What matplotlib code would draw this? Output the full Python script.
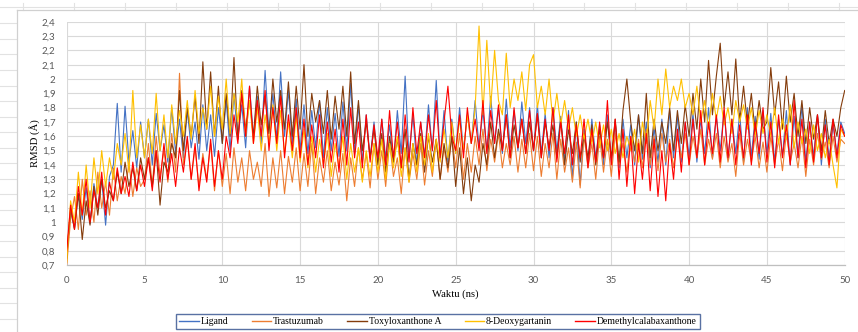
import numpy as np
import matplotlib
matplotlib.use("Agg")
import matplotlib.pyplot as plt
from matplotlib.lines import Line2D

# RMSD values, one sample every 0.25 ns (0..50 ns)
ligand = [
    0.78, 1.08, 0.96, 1.2, 1.02, 1.24, 0.99, 1.27, 1.1, 1.3, 0.98, 1.32, 1.4, 1.83, 1.35, 1.81, 1.42, 1.64, 1.38, 1.7,
    1.45, 1.72, 1.4, 1.76, 1.5, 1.68, 1.42, 1.8, 1.48, 1.72, 1.45, 1.78, 1.52, 1.7, 1.44, 1.82, 1.5, 1.75, 1.46, 1.8,
    1.55, 1.85, 1.5, 1.9, 1.58, 1.82, 1.52, 1.95, 1.6, 1.88, 1.55, 2.06, 1.62, 1.9, 1.58, 2.05, 1.6, 1.92, 1.55, 1.86,
    1.5, 1.82, 1.48, 1.78, 1.52, 1.85, 1.45, 1.8, 1.5, 1.76, 1.46, 1.84, 1.5, 1.97, 1.48, 1.82, 1.42, 1.75, 1.45, 1.7,
    1.4, 1.72, 1.45, 1.68, 1.42, 1.78, 1.48, 2.02, 1.45, 1.75, 1.4, 1.7, 1.46, 1.82, 1.5, 1.99, 1.45, 1.78, 1.42, 1.72,
    1.48, 1.8, 1.5, 1.75, 1.55, 1.85, 1.52, 1.78, 1.5, 1.88, 1.55, 1.8, 1.48, 1.86, 1.52, 1.78, 1.5, 1.84, 1.55, 1.8,
    1.5, 1.82, 1.48, 1.76, 1.45, 1.8, 1.5, 1.74, 1.42, 1.78, 1.3, 1.7, 1.26, 1.65, 1.4, 1.72, 1.45, 1.68, 1.4, 1.75,
    1.42, 1.7, 1.38, 1.72, 1.45, 1.68, 1.4, 1.75, 1.44, 1.7, 1.38, 1.66, 1.42, 1.72, 1.4, 1.78, 1.45, 1.74, 1.42, 1.7,
    1.46, 1.76, 1.42, 1.72, 1.48, 1.8, 1.45, 1.74, 1.5, 1.78, 1.44, 1.72, 1.48, 1.76, 1.42, 1.8, 1.46, 1.74, 1.44, 1.78,
    1.48, 1.76, 1.42, 1.72, 1.46, 1.78, 1.4, 1.74, 1.45, 1.82, 1.42, 1.7, 1.46, 1.75, 1.4, 1.72, 1.44, 1.68, 1.48, 1.7,
    1.62,
]
trastuzumab = [
    0.7, 1.02, 1.18, 0.95, 1.3, 1.05, 1.22, 1.0, 1.35, 1.1, 1.28, 1.05, 1.38, 1.15, 1.32, 1.2, 1.42, 1.18, 1.38, 1.25,
    1.3, 1.55, 1.25, 1.6, 1.32, 1.5, 1.28, 1.62, 1.35, 2.04, 1.4, 1.58, 1.3, 1.52, 1.25, 1.48, 1.3, 1.55, 1.22, 1.5,
    1.25, 1.48, 1.2, 1.52, 1.28, 1.45, 1.22, 1.5, 1.3, 1.42, 1.25, 1.55, 1.18, 1.45, 1.24, 1.5, 1.2, 1.46, 1.28, 1.52,
    1.22, 1.48, 1.25, 1.55, 1.2, 1.45, 1.28, 1.5, 1.22, 1.42, 1.26, 1.48, 1.15, 1.45, 1.25, 1.52, 1.3, 1.48, 1.24, 1.55,
    1.3, 1.5, 1.25, 1.56, 1.32, 1.45, 1.2, 1.52, 1.28, 1.48, 1.3, 1.55, 1.26, 1.5, 1.32, 1.58, 1.3, 1.52, 1.35, 1.6,
    1.38, 1.62, 1.3, 1.55, 1.35, 1.6, 1.4, 1.65, 1.36, 1.58, 1.42, 1.62, 1.38, 1.55, 1.4, 1.6, 1.35, 1.58, 1.38, 1.62,
    1.36, 1.6, 1.32, 1.55, 1.38, 1.62, 1.3, 1.58, 1.35, 1.52, 1.28, 1.56, 1.24, 1.6, 1.38, 1.55, 1.3, 1.6, 1.35, 1.58,
    1.32, 1.62, 1.4, 1.55, 1.35, 1.6, 1.42, 1.58, 1.38, 1.65, 1.4, 1.6, 1.36, 1.62, 1.42, 1.58, 1.38, 1.6, 1.45, 1.62,
    1.4, 1.6, 1.45, 1.65, 1.4, 1.58, 1.44, 1.62, 1.38, 1.6, 1.42, 1.55, 1.32, 1.62, 1.4, 1.58, 1.42, 1.6, 1.38, 1.56,
    1.35, 1.6, 1.4, 1.58, 1.36, 1.62, 1.42, 1.55, 1.38, 1.6, 1.32, 1.58, 1.4, 1.62, 1.44, 1.56, 1.38, 1.6, 1.42, 1.58,
    1.55,
]
toxyloxanthone = [
    0.75, 1.1, 0.95, 1.2, 0.88, 1.15, 0.98, 1.25, 1.05, 1.3, 1.1, 1.22, 1.15, 1.35, 1.2, 1.42, 1.25, 1.38, 1.22, 1.45,
    1.3, 1.45, 1.25, 1.5, 1.12, 1.42, 1.35, 1.55, 1.45, 1.92, 1.5, 1.8, 1.6, 1.88, 1.55, 2.12, 1.65, 2.05, 1.6, 1.95,
    1.55, 1.9, 1.6, 2.15, 1.58, 1.92, 1.65, 1.85, 1.6, 1.95, 1.68, 1.88, 1.62, 2.0, 1.7, 1.92, 1.65, 1.98, 1.6, 1.95,
    1.65, 2.1, 1.6, 1.9, 1.7, 1.85, 1.62, 1.92, 1.58, 1.88, 1.65, 1.95, 1.6, 2.05, 1.55, 1.85, 1.5, 1.7, 1.45, 1.65,
    1.4, 1.62, 1.35, 1.6, 1.42, 1.58, 1.38, 1.65, 1.3, 1.55, 1.4, 1.62, 1.35, 1.6, 1.42, 1.58, 1.3, 1.55, 1.38, 1.6,
    1.25, 1.52, 1.2, 1.45, 1.15, 1.4, 1.28, 1.55, 1.4, 1.7, 1.45, 1.65, 1.5, 1.75, 1.45, 1.68, 1.52, 1.72, 1.48, 1.7,
    1.5, 1.75, 1.45, 1.7, 1.52, 1.68, 1.45, 1.72, 1.4, 1.65, 1.48, 1.7, 1.42, 1.62, 1.45, 1.68, 1.4, 1.65, 1.45, 1.7,
    1.45, 1.72, 1.42, 1.78, 2.0, 1.7, 1.5, 1.75, 1.48, 1.9, 1.45, 1.72, 1.5, 1.7, 1.55, 1.8, 1.5, 1.78, 1.55, 1.82,
    1.6, 1.9, 1.65, 2.0, 1.7, 2.13, 1.75, 2.02, 2.25, 1.8, 2.05, 1.75, 2.14, 1.7, 1.95, 1.68, 1.9, 1.62, 1.85, 1.65,
    1.7, 2.08, 1.75, 1.98, 1.65, 2.02, 1.7, 1.9, 1.6, 1.85, 1.55, 1.8, 1.58, 1.75, 1.5, 1.78, 1.55, 1.72, 1.6, 1.8,
    1.92,
]
deoxygartanin = [
    0.72, 1.15, 1.0, 1.35, 1.05, 1.4, 1.1, 1.45, 1.2, 1.5, 1.25, 1.45, 1.3, 1.55, 1.4, 1.62, 1.35, 1.92, 1.45, 1.68,
    1.45, 1.72, 1.48, 1.9, 1.5, 1.75, 1.45, 1.82, 1.55, 1.78, 1.6, 1.85, 1.58, 1.92, 1.62, 1.8, 1.65, 1.95, 1.6, 1.88,
    1.65, 2.0, 1.62, 1.9, 1.7, 2.0, 1.6, 1.85, 1.55, 1.8, 1.5, 1.75, 1.55, 1.82, 1.5, 1.78, 1.48, 1.7, 1.45, 1.75,
    1.42, 1.65, 1.38, 1.6, 1.35, 1.58, 1.4, 1.62, 1.32, 1.55, 1.38, 1.6, 1.3, 1.55, 1.35, 1.52, 1.28, 1.5, 1.32, 1.55,
    1.35, 1.58, 1.3, 1.55, 1.38, 1.6, 1.32, 1.52, 1.28, 1.55, 1.35, 1.6, 1.4, 1.62, 1.35, 1.58, 1.42, 1.65, 1.45, 1.7,
    1.48, 1.72, 1.5, 1.75, 1.55, 1.8, 2.37, 1.75, 2.27, 1.8, 2.2, 1.85, 1.75, 2.18, 1.8, 2.0, 1.85, 2.05, 1.78, 2.1,
    2.17, 1.8, 1.95, 1.75, 2.0, 1.7, 1.9, 1.68, 1.85, 1.65, 1.8, 1.6, 1.75, 1.58, 1.72, 1.55, 1.7, 1.52, 1.68, 1.5,
    1.65, 1.48, 1.62, 1.45, 1.6, 1.5, 1.65, 1.42, 1.7, 1.55, 1.85, 1.65, 2.0, 1.75, 2.07, 1.8, 1.95, 1.85, 2.0, 1.8,
    1.9, 1.75, 1.95, 1.7, 1.85, 1.65, 1.9, 1.72, 1.88, 1.68, 1.8, 1.62, 1.85, 1.7, 1.82, 1.65, 1.8, 1.6, 1.78, 1.62,
    1.75, 1.6, 1.8, 1.55, 1.72, 1.58, 1.82, 1.52, 1.7, 1.55, 1.65, 1.48, 1.68, 1.5, 1.62, 1.45, 1.58, 1.4, 1.24, 1.65,
    1.6,
]
demethylcalabaxanthone = [
    0.8, 1.12, 0.95, 1.25, 1.05, 1.3, 1.0, 1.22, 1.1, 1.35, 1.05, 1.28, 1.15, 1.38, 1.2, 1.32, 1.18, 1.42, 1.22, 1.4,
    1.25, 1.45, 1.22, 1.5, 1.28, 1.55, 1.3, 1.48, 1.25, 1.52, 1.35, 1.6, 1.3, 1.55, 1.22, 1.45, 1.28, 1.58, 1.25, 1.5,
    1.3, 1.6, 1.45, 1.75, 1.55, 1.9, 1.6, 1.95, 1.55, 1.85, 1.6, 1.92, 1.5, 1.8, 1.55, 1.88, 1.45, 1.75, 1.5, 1.8,
    1.45, 1.72, 1.4, 1.68, 1.45, 1.75, 1.38, 1.7, 1.42, 1.65, 1.35, 1.72, 1.4, 1.8, 1.45, 1.7, 1.38, 1.75, 1.42, 1.68,
    1.45, 1.72, 1.4, 1.78, 1.45, 1.7, 1.38, 1.75, 1.42, 1.8, 1.48, 1.7, 1.45, 1.75, 1.5, 1.85, 1.45, 1.7, 1.95, 1.6,
    1.5, 1.75, 1.45, 1.8, 1.55, 1.72, 1.5, 1.85, 1.48, 1.78, 1.55, 1.82, 1.5, 1.75, 1.45, 1.8, 1.52, 1.72, 1.48, 1.78,
    1.5, 1.76, 1.45, 1.72, 1.5, 1.8, 1.42, 1.7, 1.48, 1.75, 1.4, 1.68, 1.45, 1.72, 1.38, 1.65, 1.42, 1.7, 1.45, 1.85,
    1.4, 1.72, 1.3, 1.65, 1.25, 1.6, 1.2, 1.55, 1.3, 1.62, 1.22, 1.58, 1.18, 1.5, 1.15, 1.55, 1.3, 1.65, 1.35, 1.7,
    1.4, 1.72, 1.45, 1.78, 1.4, 1.7, 1.48, 1.75, 1.42, 1.8, 1.45, 1.72, 1.4, 1.68, 1.45, 1.75, 1.4, 1.7, 1.48, 1.8,
    1.42, 1.7, 1.38, 1.75, 1.45, 1.68, 1.4, 1.85, 1.45, 1.72, 1.38, 1.7, 1.42, 1.75, 1.45, 1.68, 1.4, 1.72, 1.45, 1.68,
    1.6,
]

series_names = ["Ligand", "Trastuzumab", "Toxyloxanthone A", "8-Deoxygartanin", "Demethylcalabaxanthone"]
series_colors = ["#4472C4", "#ED7D31", "#843C0C", "#FFC000", "#FF0000"]
series_values = [ligand, trastuzumab, toxyloxanthone, deoxygartanin, demethylcalabaxanthone]

x_ticks = [0, 5, 10, 15, 20, 25, 30, 35, 40, 45, 50]
y_ticks = [0.7, 0.8, 0.9, 1.0, 1.1, 1.2, 1.3, 1.4, 1.5, 1.6, 1.7, 1.8, 1.9, 2.0, 2.1, 2.2, 2.3, 2.4]
y_labels = ["0,7", "0,8", "0,9", "1", "1,1", "1,2", "1,3", "1,4", "1,5", "1,6", "1,7", "1,8",
            "1,9", "2", "2,1", "2,2", "2,3", "2,4"]

W, H = 858, 332
fig = plt.figure(figsize=(W / 100, H / 100), dpi=100)
fig.patch.set_facecolor("white")

# spreadsheet cell lines behind the chart
cell = "#E2E2E2"
fig.add_artist(Line2D([0, 1], [1 - 6.5 / H] * 2, color=cell, lw=0.8))
for k in range(17):
    xx = 22.7 + 51.0 * k
    fig.add_artist(Line2D([xx / W] * 2, [1 - 3 / H, 1 - 10 / H], color=cell, lw=0.8))
for k in range(20):
    yy = 23.3 + 15.55 * k
    fig.add_artist(Line2D([0, 16 / W], [1 - yy / H] * 2, color=cell, lw=0.8))
# chart area border
fig.add_artist(Line2D([16.5 / W, 1], [1 - 10 / H] * 2, color="#D0D0D0", lw=0.9))
fig.add_artist(Line2D([16.5 / W] * 2, [0, 1 - 10 / H], color="#D0D0D0", lw=0.9))

ax = fig.add_axes([66.7 / W, 1 - 265.3 / H, (844.7 - 66.7) / W, (265.3 - 21.7) / H])

for name, color, vals in zip(series_names, series_colors, series_values):
    t = np.linspace(0, 50, len(vals))
    ax.plot(t, vals, color=color, lw=0.8, label=name)

ax.set_xlim(0, 50)
ax.set_ylim(0.7, 2.4)
ax.set_xticks(x_ticks)
ax.set_xticklabels([str(v) for v in x_ticks])
ax.set_yticks(y_ticks)
ax.set_yticklabels(y_labels)
ax.tick_params(length=0, labelsize=7, labelcolor="#595959", pad=8)
for lab in ax.get_xticklabels() + ax.get_yticklabels():
    lab.set_fontfamily("Lato")
ax.grid(True, color="#D9D9D9", lw=0.8)
ax.set_axisbelow(True)
for s in ["top", "right", "left"]:
    ax.spines[s].set_visible(False)
ax.spines["bottom"].set_color("#BFBFBF")
ax.spines["bottom"].set_linewidth(0.9)

ax.set_xlabel("Waktu (ns)", family="Liberation Serif", fontsize=7.7, labelpad=3)
ax.set_ylabel("RMSD (Å)", family="Liberation Serif", fontsize=7.7, labelpad=1)

leg = fig.legend(loc="center", bbox_to_anchor=(438 / W, 1 - 321.5 / H), ncol=5,
                 prop={"family": "Liberation Serif", "size": 7}, frameon=True, fancybox=False,
                 handlelength=2.0, handletextpad=0.2, columnspacing=2.4, borderpad=0.35)
leg.get_frame().set_edgecolor("#2F4E8C")
leg.get_frame().set_linewidth(1.0)
for line in leg.get_lines():
    line.set_linewidth(1.0)

fig.savefig("out.png", dpi=100)
